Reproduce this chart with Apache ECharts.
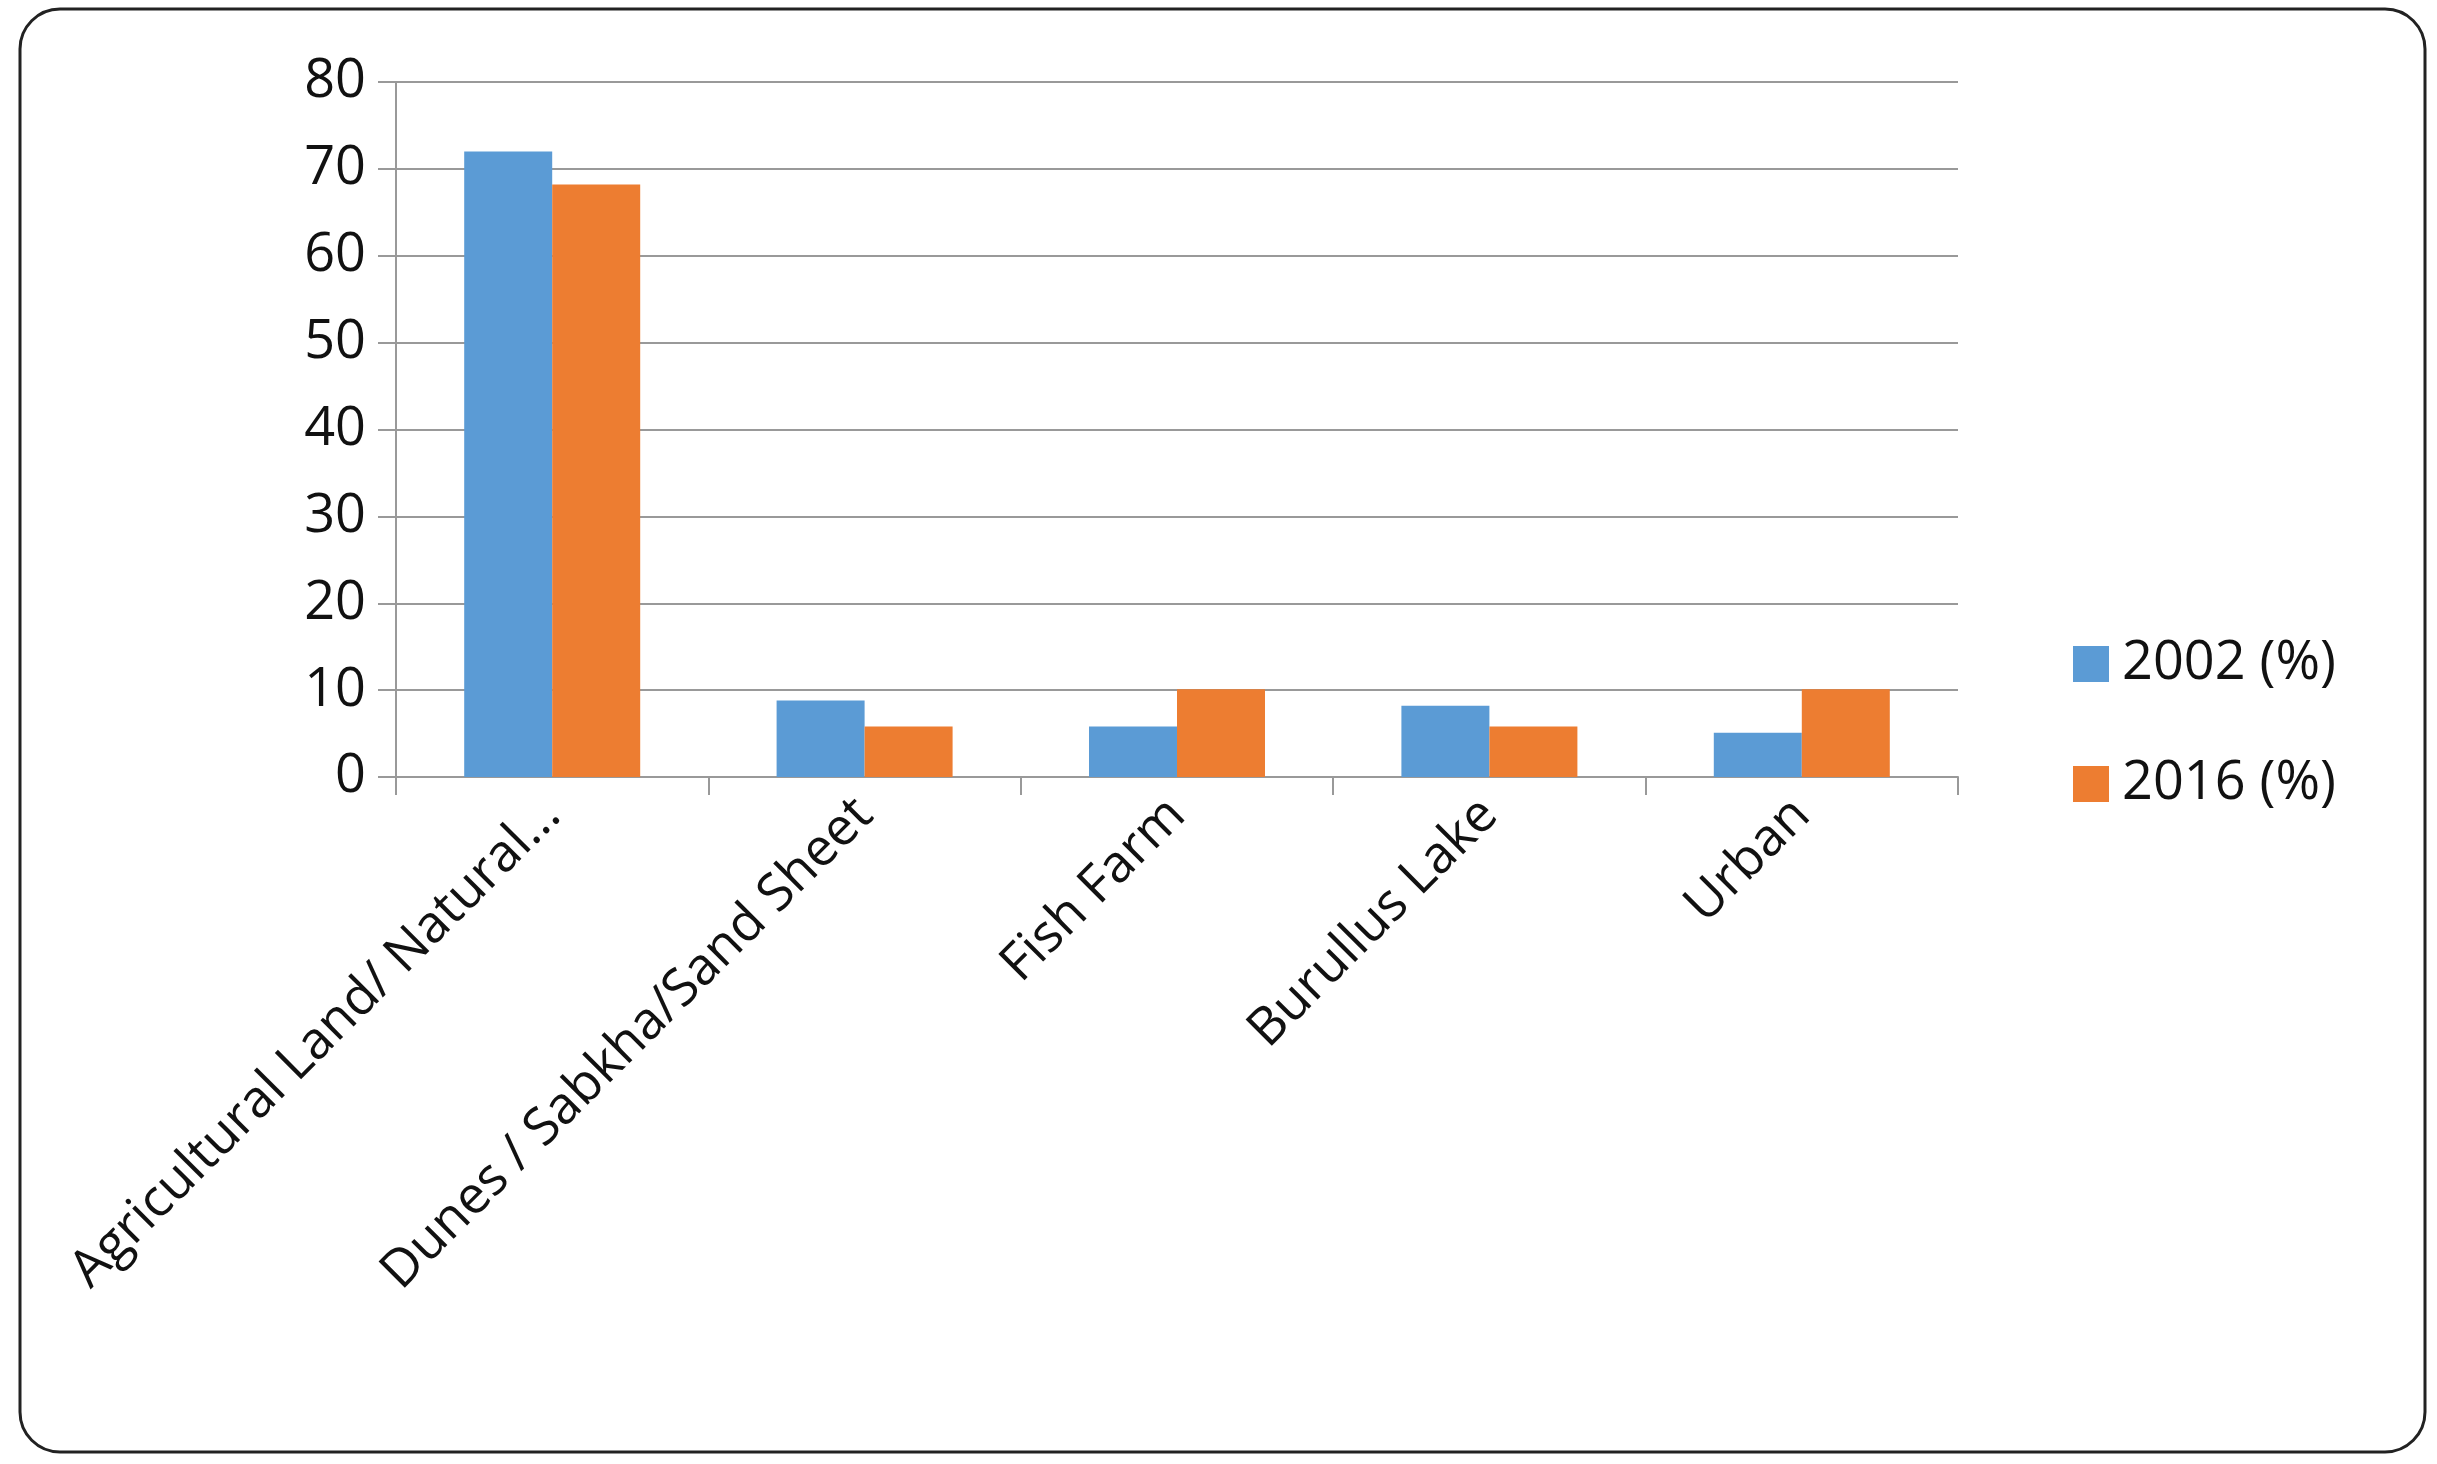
<!DOCTYPE html>
<html><head><meta charset="utf-8">
<script src="https://cdn.jsdelivr.net/npm/echarts@6/dist/echarts.min.js"></script>
<style>html,body{margin:0;background:#fff}#c{width:2437px;height:1464px}</style>
</head><body><div id="c"></div>
<script>
const categories = ["Agricultural Land/ Natural...", "Dunes / Sabkha/Sand Sheet", "Fish Farm", "Burullus Lake", "Urban"];
const series2002 = [72, 8.8, 5.8, 8.2, 5.1];
const series2016 = [68.2, 5.8, 10.1, 5.8, 10.1];
const seriesNames = ["2002 (%)", "2016 (%)"];
const chart = echarts.init(document.getElementById('c'));
const font = '"Open Sans", Lato, sans-serif';
chart.setOption({
  animation: false,
  graphic: [{type:'rect', shape:{x:20,y:9,width:2405,height:1443,r:40}, style:{fill:'none',stroke:'#222',lineWidth:3}}],
  grid: {left:396, right:2437-1958, top:82, bottom:1464-777},
  legend: {orient:'vertical', left:2068, top:632, itemGap:66, itemWidth:36, itemHeight:36, icon:'rect',
    textStyle:{fontSize:54, fontFamily:font, color:'#111', padding:[0,0,0,8]}, data: seriesNames},
  xAxis: {type:'category', data:categories,
    axisLine:{lineStyle:{color:'#999',width:2}},
    axisTick:{show:true,length:18,lineStyle:{color:'#999',width:2}},
    axisLabel:{rotate:45, interval:0, fontSize:52, fontFamily:font, color:'#111', margin:30}},
  yAxis: {type:'value', min:0, max:80, interval:10,
    axisLine:{show:true,lineStyle:{color:'#999',width:2}},
    axisTick:{show:true,length:18,lineStyle:{color:'#999',width:2}},
    splitLine:{lineStyle:{color:'#999',width:2}},
    axisLabel:{fontSize:54, fontFamily:font, color:'#111', margin:30}},
  series: [
    {name:seriesNames[0], type:'bar', data:series2002, barWidth:88, barGap:'0%', itemStyle:{color:'#5B9BD5'}},
    {name:seriesNames[1], type:'bar', data:series2016, barWidth:88, itemStyle:{color:'#ED7D31'}}
  ]
});
</script></body></html>
